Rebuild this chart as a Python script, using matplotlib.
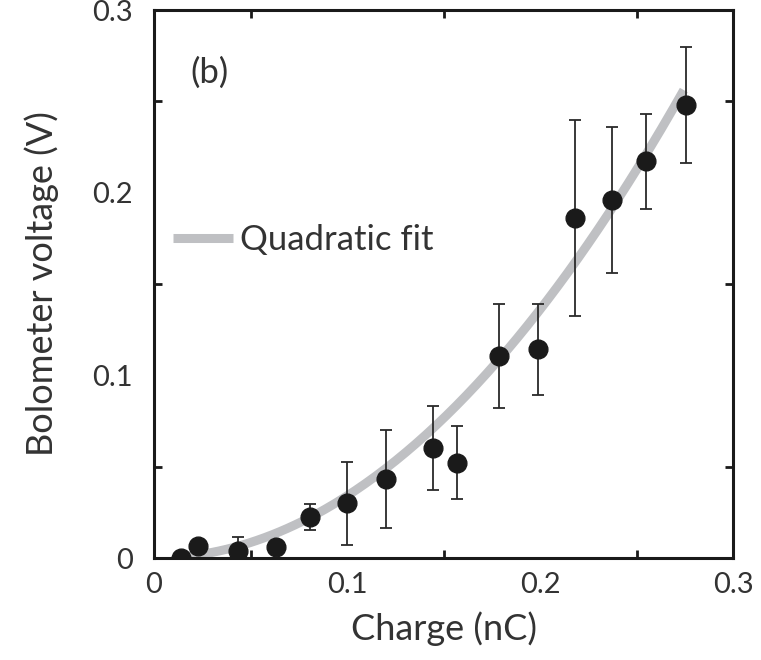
import matplotlib
matplotlib.use('Agg')
import matplotlib.pyplot as plt
import numpy as np

# measured points (charge in nC, bolometer voltage in V)
charge = [0.014, 0.0228, 0.0437, 0.0632, 0.081, 0.1002, 0.120, 0.1448, 0.157,
          0.1788, 0.1988, 0.2181, 0.2375, 0.255, 0.2755]
voltage = [0.0, 0.0067, 0.0038, 0.0062, 0.0226, 0.0299, 0.0432, 0.0604, 0.0522,
           0.1106, 0.1142, 0.186, 0.196, 0.2173, 0.2478]
v_err = [0.0, 0.0, 0.0078, 0.0, 0.007, 0.0225, 0.0267, 0.023, 0.020,
         0.0285, 0.025, 0.0536, 0.040, 0.026, 0.0317]

# quadratic fit V = k * Q^2
fit_k = 3.4
fit_range = (0.014, 0.2745)

plt.rcParams['font.family'] = ['Lato', 'DejaVu Sans']
txt_color = '#333333'

fig = plt.figure(figsize=(7.61, 6.6), dpi=100)
ax = fig.add_axes([0.2024, 0.1545, 0.7608, 0.8303])

q = np.linspace(fit_range[0], fit_range[1], 200)
ax.plot(q, fit_k * q**2, color='#bfc0c3', lw=6.5, solid_capstyle='butt',
        label='Quadratic fit', zorder=1)
ax.errorbar(charge, voltage, yerr=v_err, fmt='o', color='#1a1a1a', ms=13.5,
            ecolor='#2a2a2a', elinewidth=1.3, capsize=4, capthick=1.3, zorder=3)

ax.set_xlim(0, 0.3)
ax.set_ylim(0, 0.3)
ax.set_xticks([0, 0.1, 0.2, 0.3])
ax.set_xticklabels(['0', '0.1', '0.2', '0.3'])
ax.set_yticks([0, 0.1, 0.2, 0.3])
ax.set_yticklabels(['0', '0.1', '0.2', '0.3'])
ax.set_xticks(np.arange(0.05, 0.3, 0.05), minor=True)
ax.set_yticks(np.arange(0.05, 0.3, 0.05), minor=True)
for s in ax.spines.values():
    s.set_linewidth(2.2)
    s.set_color('#1a1a1a')
ax.tick_params(which='both', direction='in', top=True, right=True,
               length=6, width=2, color='#1a1a1a', labelsize=21,
               labelcolor=txt_color)
ax.tick_params(axis='x', which='major', length=0, pad=10)
ax.tick_params(axis='y', which='major', length=0, pad=15)

ax.set_xlabel('Charge (nC)', fontsize=26, color=txt_color, labelpad=10)
ax.set_ylabel('Bolometer voltage (V)', fontsize=26, color=txt_color, labelpad=24)

ax.text(0.019, 0.2655, '(b)', fontsize=25, color=txt_color, va='center')
ax.legend(loc='center left', bbox_to_anchor=(-0.022, 0.58), frameon=False,
          fontsize=25, handlelength=1.75, handletextpad=0.2, labelcolor=txt_color)

fig.savefig('out.png', dpi=100)
